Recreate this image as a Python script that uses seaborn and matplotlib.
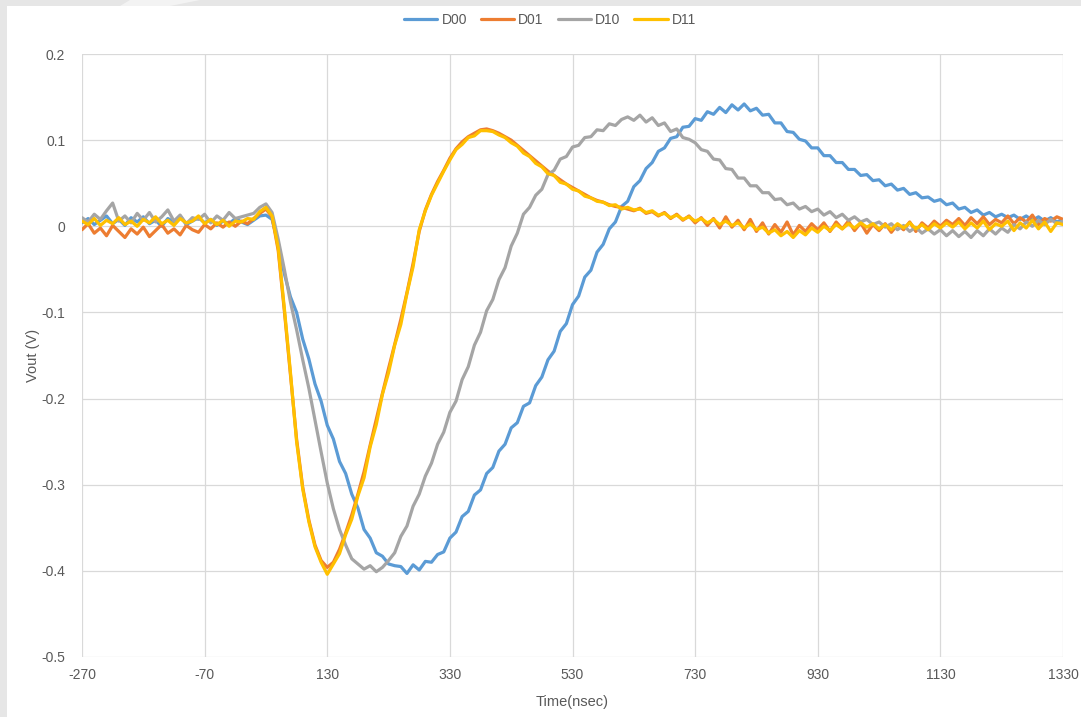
import matplotlib
matplotlib.use("Agg")
import matplotlib.pyplot as plt
from matplotlib.patches import Rectangle, Polygon
import numpy as np
import pandas as pd
import seaborn as sns

# ---------------- data ----------------
time_ns = list(range(-270, 1331, 10))  # 161 samples

series_names = ["D00", "D01", "D10", "D11"]
series_colors = ["#5B9BD5", "#ED7D31", "#A5A5A5", "#FFC000"]

D00 = [
    0.004, 0.009, 0.002, 0.007, 0.012, 0.003, 0.008, 0.001, 0.010, 0.005,   # -270
    0.011, 0.003, 0.007, 0.000, 0.009, 0.005, 0.012, 0.002, 0.006, 0.010,   # -170
    0.004, 0.008, 0.001, 0.006, 0.003, 0.009, 0.005, 0.002, 0.007, 0.012,   # -70
    0.013, 0.008, -0.020, -0.055, -0.082, -0.100, -0.131, -0.154, -0.183, -0.203,  # 30
    -0.231, -0.247, -0.273, -0.287, -0.311, -0.327, -0.352, -0.362, -0.379, -0.383,  # 130
    -0.392, -0.394, -0.395, -0.403, -0.393, -0.399, -0.389, -0.390, -0.381, -0.378,  # 230
    -0.362, -0.355, -0.337, -0.331, -0.312, -0.306, -0.287, -0.280, -0.261, -0.253,  # 330
    -0.234, -0.228, -0.209, -0.205, -0.185, -0.175, -0.155, -0.145, -0.122, -0.113,  # 430
    -0.091, -0.081, -0.059, -0.051, -0.030, -0.021, -0.003, 0.005, 0.023, 0.029,   # 530
    0.046, 0.053, 0.067, 0.074, 0.087, 0.091, 0.102, 0.104, 0.115, 0.116,   # 630
    0.125, 0.123, 0.133, 0.130, 0.138, 0.132, 0.141, 0.135, 0.142, 0.134,   # 730
    0.137, 0.129, 0.130, 0.120, 0.120, 0.110, 0.109, 0.101, 0.099, 0.091,   # 830
    0.091, 0.082, 0.082, 0.074, 0.074, 0.066, 0.066, 0.059, 0.060, 0.053,   # 930
    0.054, 0.047, 0.049, 0.042, 0.044, 0.037, 0.039, 0.033, 0.034, 0.029,   # 1030
    0.031, 0.025, 0.027, 0.020, 0.022, 0.016, 0.019, 0.013, 0.016, 0.011,   # 1130
    0.014, 0.010, 0.013, 0.008, 0.012, 0.007, 0.011, 0.006, 0.010, 0.005,   # 1230
    0.008,                                                                  # 1330
]

D01 = [
    -0.004, 0.003, -0.008, -0.002, -0.011, 0.001, -0.006, -0.013, -0.003, -0.009,  # -270
    -0.001, -0.012, -0.005, 0.002, -0.008, -0.003, -0.010, 0.001, -0.004, -0.007,  # -170
    0.002, -0.003, 0.004, -0.001, 0.005, 0.000, 0.006, 0.003, 0.009, 0.015,        # -70
    0.020, 0.011, -0.028, -0.098, -0.172, -0.247, -0.303, -0.341, -0.370, -0.388,  # 30
    -0.396, -0.390, -0.375, -0.356, -0.335, -0.311, -0.285, -0.254, -0.224, -0.194,  # 130
    -0.165, -0.137, -0.108, -0.077, -0.043, -0.006, 0.019, 0.037, 0.052, 0.065,    # 230
    0.079, 0.090, 0.098, 0.104, 0.108, 0.112, 0.113, 0.111, 0.108, 0.104,   # 330
    0.100, 0.094, 0.088, 0.082, 0.076, 0.070, 0.064, 0.059, 0.054, 0.049,   # 430
    0.045, 0.041, 0.037, 0.033, 0.030, 0.028, 0.025, 0.023, 0.022, 0.020,   # 530
    0.018, 0.021, 0.015, 0.017, 0.012, 0.016, 0.009, 0.014, 0.007, 0.012,   # 630
    0.004, 0.010, 0.001, 0.009, -0.002, 0.011, -0.001, 0.007, -0.004, 0.008,  # 730
    -0.006, 0.004, -0.009, 0.002, -0.007, 0.005, -0.010, 0.001, -0.006, 0.003,  # 830
    -0.004, 0.004, -0.006, 0.005, -0.003, 0.006, -0.005, 0.004, -0.008, 0.002,  # 930
    -0.005, 0.003, -0.007, 0.002, -0.004, 0.005, -0.006, 0.004, -0.002, 0.006,  # 1030
    0.000, 0.007, 0.002, 0.009, 0.001, 0.010, 0.003, 0.011, 0.002, 0.008,   # 1130
    0.004, 0.012, 0.003, 0.010, 0.005, 0.013, 0.002, 0.009, 0.006, 0.011,   # 1230
    0.008,                                                                  # 1330
]

D10 = [
    0.010, 0.005, 0.014, 0.008, 0.018, 0.027, 0.006, 0.012, 0.004, 0.015,   # -270
    0.007, 0.016, 0.005, 0.011, 0.019, 0.006, 0.013, 0.003, 0.010, 0.008,   # -170
    0.014, 0.004, 0.012, 0.007, 0.016, 0.009, 0.011, 0.013, 0.015, 0.022,   # -70
    0.026, 0.016, -0.015, -0.050, -0.088, -0.120, -0.155, -0.188, -0.225, -0.262,  # 30
    -0.298, -0.328, -0.352, -0.370, -0.386, -0.392, -0.398, -0.394, -0.401, -0.396,  # 130
    -0.388, -0.379, -0.360, -0.348, -0.325, -0.311, -0.290, -0.275, -0.253, -0.239,  # 230
    -0.216, -0.203, -0.178, -0.163, -0.138, -0.123, -0.098, -0.085, -0.062, -0.048,  # 330
    -0.023, -0.008, 0.014, 0.022, 0.036, 0.043, 0.060, 0.065, 0.078, 0.081,   # 430
    0.092, 0.094, 0.103, 0.104, 0.112, 0.111, 0.119, 0.117, 0.124, 0.127,   # 530
    0.123, 0.129, 0.121, 0.126, 0.117, 0.120, 0.110, 0.113, 0.103, 0.101,   # 630
    0.097, 0.089, 0.087, 0.078, 0.077, 0.067, 0.066, 0.056, 0.056, 0.047,   # 730
    0.047, 0.039, 0.039, 0.031, 0.032, 0.025, 0.027, 0.020, 0.023, 0.017,   # 830
    0.020, 0.013, 0.017, 0.010, 0.014, 0.007, 0.011, 0.005, 0.008, 0.002,   # 930
    0.005, -0.001, 0.003, -0.004, 0.001, -0.006, -0.001, -0.008, -0.003, -0.009,  # 1030
    -0.004, -0.011, -0.005, -0.012, -0.006, -0.013, -0.005, -0.011, -0.003, -0.009,  # 1130
    -0.002, -0.007, 0.002, -0.003, 0.005, 0.000, 0.007, 0.002, 0.008, 0.003,   # 1230
    0.006,                                                                   # 1330
]

D11 = [
    0.006, 0.002, 0.009, 0.001, 0.007, 0.003, 0.010, 0.002, 0.006, 0.000,   # -270
    0.008, 0.004, 0.011, 0.003, 0.007, 0.001, 0.009, 0.004, 0.006, 0.012,   # -170
    0.003, 0.008, 0.002, 0.007, 0.000, 0.006, 0.005, 0.009, 0.008, 0.017,   # -70
    0.022, 0.012, -0.025, -0.095, -0.170, -0.250, -0.305, -0.343, -0.372, -0.390,  # 30
    -0.404, -0.392, -0.380, -0.358, -0.340, -0.313, -0.292, -0.256, -0.230, -0.195,  # 130
    -0.170, -0.138, -0.114, -0.078, -0.047, -0.004, 0.018, 0.036, 0.050, 0.064,  # 230
    0.077, 0.089, 0.095, 0.103, 0.105, 0.111, 0.111, 0.110, 0.106, 0.103,   # 330
    0.097, 0.093, 0.085, 0.081, 0.073, 0.069, 0.061, 0.059, 0.051, 0.049,   # 430
    0.043, 0.041, 0.035, 0.033, 0.029, 0.028, 0.024, 0.025, 0.020, 0.022,   # 530
    0.019, 0.020, 0.016, 0.018, 0.013, 0.015, 0.010, 0.013, 0.008, 0.011,   # 630
    0.006, 0.009, 0.004, 0.008, 0.002, 0.006, 0.001, 0.004, -0.002, 0.003,  # 730
    -0.004, -0.001, -0.008, -0.004, -0.011, -0.006, -0.013, -0.005, -0.010, -0.002,  # 830
    -0.007, 0.000, -0.005, 0.002, -0.003, 0.003, -0.002, 0.004, -0.001, 0.003,  # 930
    -0.003, 0.002, -0.004, 0.003, -0.002, 0.004, -0.003, 0.002, -0.004, 0.003,  # 1030
    -0.002, 0.004, -0.001, 0.005, -0.003, 0.004, -0.002, 0.006, -0.004, 0.003,  # 1130
    0.000, 0.006, -0.005, 0.004, -0.002, 0.007, -0.003, 0.005, -0.006, 0.004,  # 1230
    0.002,                                                                    # 1330
]

x_ticks = [-270, -70, 130, 330, 530, 730, 930, 1130, 1330]
y_ticks = [-0.5, -0.4, -0.3, -0.2, -0.1, 0.0, 0.1, 0.2]
y_tick_labels = ["-0.5", "-0.4", "-0.3", "-0.2", "-0.1", "0", "0.1", "0.2"]
x_label = "Time(nsec)"
y_label = "Vout (V)"

# ---------------- build long table ----------------
frames = []
for name, vals in zip(series_names, [D00, D01, D10, D11]):
    frames.append(pd.DataFrame({"t": time_ns, "v": vals, "series": name}))
df = pd.concat(frames, ignore_index=True)

# ---------------- figure ----------------
sns.set_theme(style="white")
plt.rcParams["font.family"] = ["Liberation Sans Narrow", "Liberation Sans", "DejaVu Sans"]

W, H = 1081, 717
fig = plt.figure(figsize=(W / 100, H / 100), dpi=100)
fig.patch.set_facecolor("#e6e6e6")
# white chart card (behind the axes)
fig.patches.append(Rectangle((7 / W, 0), 1, (H - 6) / H, transform=fig.transFigure,
                             facecolor="white", edgecolor="none", zorder=-20))
# faint watermark shape in the grey margin
fig.patches.append(Polygon([(130 / W, 1), (200 / W, 1), (170 / W, (H - 6) / H), (120 / W, (H - 6) / H)],
                           closed=True, transform=fig.transFigure, facecolor="#f3f3f3",
                           edgecolor="none", zorder=-19))

ax = fig.add_axes([82 / W, 1 - 657 / H, (1063 - 82) / W, (657 - 54) / H])
ax.set_zorder(5)
ax.set_facecolor("none")

sns.lineplot(data=df, x="t", y="v", hue="series", hue_order=series_names,
             palette=series_colors, estimator=None, sort=False, linewidth=2.3,
             ax=ax, zorder=3)

ax.set_xlim(-270, 1330)
ax.set_ylim(-0.5, 0.2)
ax.set_xticks(x_ticks)
ax.set_xticklabels([str(v) for v in x_ticks])
ax.set_yticks(y_ticks)
ax.set_yticklabels(y_tick_labels)
ax.grid(True, color="#d9d9d9", linewidth=0.9, zorder=0)
ax.set_axisbelow(True)
for s in ax.spines.values():
    s.set_visible(False)
ax.tick_params(axis="both", length=0, labelsize=10, colors="#595959", pad=8)
ax.tick_params(axis="y", pad=12)

ax.set_xlabel(x_label, fontsize=10.5, color="#595959")
ax.set_ylabel(y_label, fontsize=10.5, color="#595959")
ax.xaxis.set_label_coords(0.5, -(702 - 657) / 603)
ax.yaxis.set_label_coords(-(82 - 33) / 981, 0.5)
ax.xaxis.label.set_va("center")
ax.yaxis.label.set_va("center")

handles, labels = ax.get_legend_handles_labels()
ax.legend(handles, labels, loc="center", bbox_to_anchor=(550 / W, 1 - 20 / H),
          bbox_transform=fig.transFigure, ncol=4, frameon=False, fontsize=10,
          handlelength=2.4, columnspacing=1.0, handletextpad=0.3,
          labelcolor="#595959")

fig.savefig("out.png", dpi=100, facecolor=fig.get_facecolor())
